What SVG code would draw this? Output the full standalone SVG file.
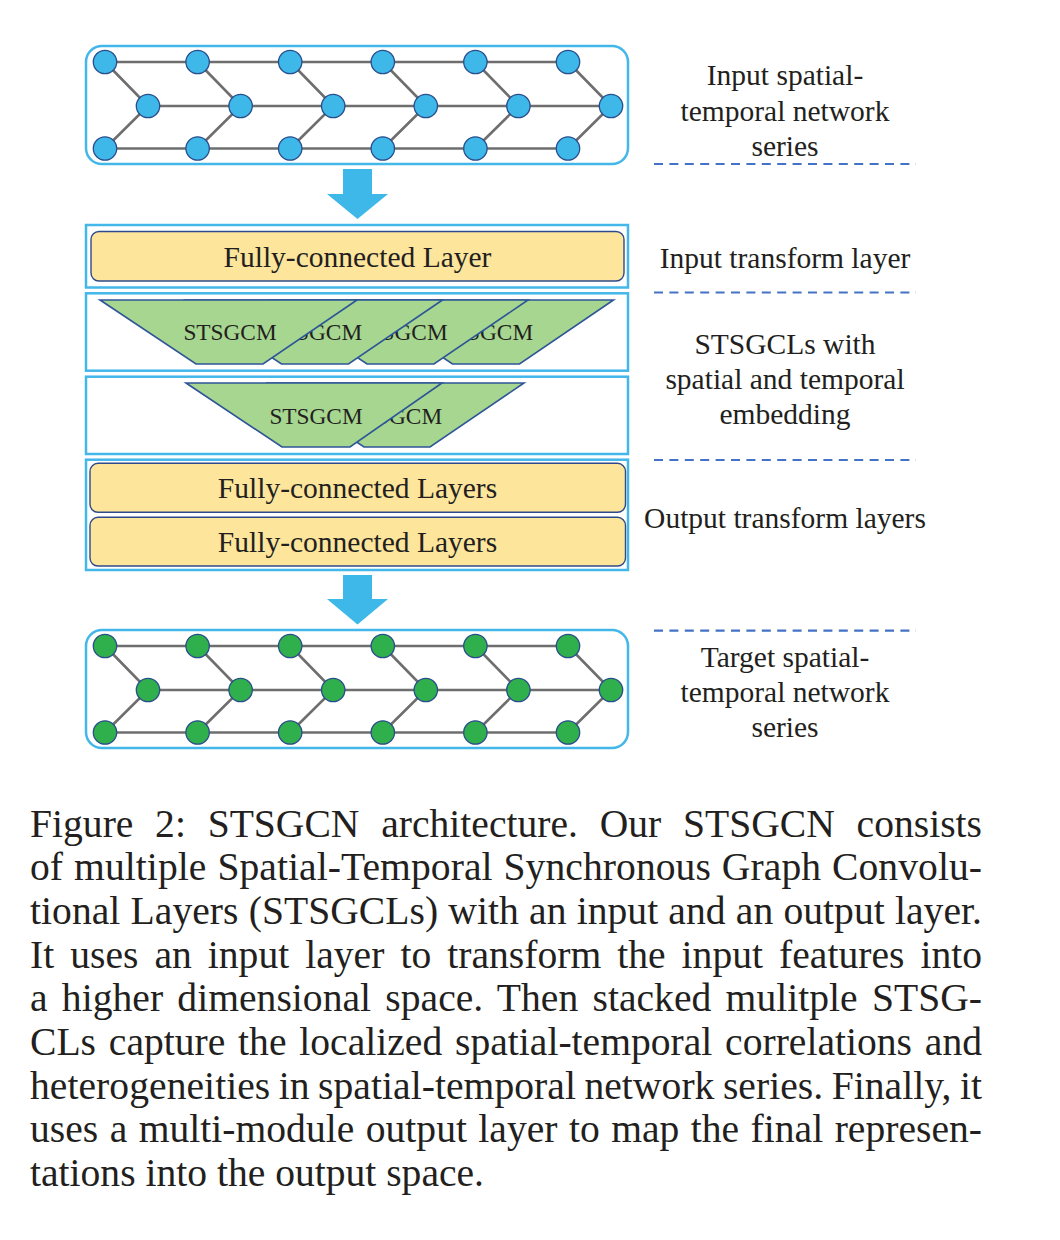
<svg xmlns="http://www.w3.org/2000/svg" width="1060" height="1240" viewBox="0 0 1060 1240">
<style>
  .frame{fill:#fff;stroke:#43b7e9;stroke-width:2.5}
  .netbox{fill:#fff;stroke:#43b7e9;stroke-width:2.5}
  .edge{stroke:#6e6e6e;stroke-width:2.6;fill:none}
  .nb{fill:#3db8e8;stroke:#2b4d8c;stroke-width:1.3}
  .ng{fill:#2fb04c;stroke:#2b4d8c;stroke-width:1.3}
  .fc{fill:#fde59c;stroke:#2f4a8a;stroke-width:1.4}
  .trap{fill:#a6d68f;stroke:#2e5597;stroke-width:1.6;stroke-linejoin:miter}
  .arrow{fill:#3db8e8}
  .dash{stroke:#4472c4;stroke-width:2.2;stroke-dasharray:9 6.4;fill:none}
  .t{font-family:"Liberation Serif","Times New Roman",serif;fill:#231f20}
  .lbl{font-size:29.5px;text-anchor:middle}
  .fct{font-size:29.5px;text-anchor:middle}
  .st{font-size:23.3px;text-anchor:middle}
  .cap{font-size:39.6px}
</style>
<defs>
  <g id="net-edges">
    <line x1="105" y1="62" x2="568" y2="62"/>
    <line x1="148" y1="106" x2="611" y2="106"/>
    <line x1="105" y1="148.5" x2="568" y2="148.5"/>
    <polyline points="105,62 148,106 105,148.5"/>
    <polyline points="197.6,62 240.6,106 197.6,148.5"/>
    <polyline points="290.2,62 333.2,106 290.2,148.5"/>
    <polyline points="382.8,62 425.8,106 382.8,148.5"/>
    <polyline points="475.4,62 518.4,106 475.4,148.5"/>
    <polyline points="568,62 611,106 568,148.5"/>
  </g>
  <g id="net-nodes">
    <circle cx="105" cy="62" r="11.7"/><circle cx="197.6" cy="62" r="11.7"/><circle cx="290.2" cy="62" r="11.7"/>
    <circle cx="382.8" cy="62" r="11.7"/><circle cx="475.4" cy="62" r="11.7"/><circle cx="568" cy="62" r="11.7"/>
    <circle cx="148" cy="106" r="11.7"/><circle cx="240.6" cy="106" r="11.7"/><circle cx="333.2" cy="106" r="11.7"/>
    <circle cx="425.8" cy="106" r="11.7"/><circle cx="518.4" cy="106" r="11.7"/><circle cx="611" cy="106" r="11.7"/>
    <circle cx="105" cy="148.5" r="11.7"/><circle cx="197.6" cy="148.5" r="11.7"/><circle cx="290.2" cy="148.5" r="11.7"/>
    <circle cx="382.8" cy="148.5" r="11.7"/><circle cx="475.4" cy="148.5" r="11.7"/><circle cx="568" cy="148.5" r="11.7"/>
  </g>
</defs>

<g id="input-network">
  <rect class="netbox" x="86" y="46" width="542" height="118" rx="16"/>
  <use href="#net-edges" class="edge"/>
  <use href="#net-nodes" class="nb"/>
</g>

<g id="connectors">
  <polygon class="arrow" points="343,169 372,169 372,194 388,194 357.5,219 327,194 343,194"/>
  <polygon class="arrow" points="343,575 372,575 372,599 388,599 357.5,624.5 327,599 343,599"/>
</g>

<g id="input-transform-layer">
  <rect class="frame" x="86" y="225" width="542" height="62.5"/>
  <rect class="fc" x="91" y="231.5" width="533" height="49.5" rx="8"/>
  <text class="t fct" x="357.5" y="266.5">Fully-connected Layer</text>
</g>

<g id="stsgcl-1">
  <rect class="frame" x="86" y="293.3" width="542" height="77.4"/>
  <g id="stsgcm-1-4">
    <polygon class="trap" points="356.5,300 613.5,300 519.5,364 452.5,364"/>
    <text class="t st" x="486.5" y="340">STSGCM</text>
  </g>
  <g id="stsgcm-1-3">
    <polygon class="trap" points="271,300 528,300 434,364 367,364"/>
    <text class="t st" x="401" y="340">STSGCM</text>
  </g>
  <g id="stsgcm-1-2">
    <polygon class="trap" points="185.5,300 442.5,300 348.5,364 281.5,364"/>
    <text class="t st" x="315.5" y="340">STSGCM</text>
  </g>
  <g id="stsgcm-1-1">
    <polygon class="trap" points="100,300 357,300 263,364 196,364"/>
    <text class="t st" x="230" y="340">STSGCM</text>
  </g>
</g>

<g id="stsgcl-2">
  <rect class="frame" x="86" y="376.7" width="542" height="77.3"/>
  <g id="stsgcm-2-2">
    <polygon class="trap" points="268,383 524,383 430,447 364,447"/>
    <text class="t st" x="395.5" y="423.5">STSGCM</text>
  </g>
  <g id="stsgcm-2-1">
    <polygon class="trap" points="186,383 442,383 350,447 282,447"/>
    <text class="t st" x="316" y="423.5">STSGCM</text>
  </g>
</g>

<g id="output-transform-layers">
  <rect class="frame" x="86" y="459.7" width="542" height="110.3"/>
  <rect class="fc" x="90" y="463.3" width="535.5" height="49" rx="8"/>
  <text class="t fct" x="357.5" y="498.3">Fully-connected Layers</text>
  <rect class="fc" x="90" y="517.3" width="535.5" height="48.7" rx="8"/>
  <text class="t fct" x="357.5" y="552.3">Fully-connected Layers</text>
</g>

<g id="target-network">
  <rect class="netbox" x="86" y="630" width="542" height="118" rx="16"/>
  <g transform="translate(0,584)">
    <use href="#net-edges" class="edge"/>
    <use href="#net-nodes" class="ng"/>
  </g>
</g>

<g id="side-labels">
  <text class="t lbl" x="785" y="85">Input spatial-</text>
  <text class="t lbl" x="785" y="121">temporal network</text>
  <text class="t lbl" x="785" y="156">series</text>
  <line class="dash" x1="654" y1="164" x2="916" y2="164"/>
  <text class="t lbl" x="785" y="268">Input transform layer</text>
  <line class="dash" x1="654" y1="292.5" x2="916" y2="292.5"/>
  <text class="t lbl" x="785" y="354.3">STSGCLs with</text>
  <text class="t lbl" x="785" y="389.3">spatial and temporal</text>
  <text class="t lbl" x="785" y="424.3">embedding</text>
  <line class="dash" x1="654" y1="460" x2="916" y2="460"/>
  <text class="t lbl" x="785" y="528.3">Output transform layers</text>
  <line class="dash" x1="654" y1="630.7" x2="916" y2="630.7"/>
  <text class="t lbl" x="785" y="666.7">Target spatial-</text>
  <text class="t lbl" x="785" y="701.5">temporal network</text>
  <text class="t lbl" x="785" y="736.7">series</text>
</g>

<g id="caption" class="t cap">
  <text x="30" y="836.5" textLength="952" lengthAdjust="spacing" word-spacing="11.8">Figure 2: STSGCN architecture. Our STSGCN consists</text>
  <text x="30" y="880.2" textLength="952" lengthAdjust="spacing" word-spacing="1">of multiple Spatial-Temporal Synchronous Graph Convolu-</text>
  <text x="30" y="923.9" textLength="952" lengthAdjust="spacing" word-spacing="0.2">tional Layers (STSGCLs) with an input and an output layer.</text>
  <text x="30" y="967.6" textLength="952" lengthAdjust="spacing" word-spacing="6.1">It uses an input layer to transform the input features into</text>
  <text x="30" y="1011.3" textLength="952" lengthAdjust="spacing" word-spacing="4.3">a higher dimensional space. Then stacked mulitple STSG-</text>
  <text x="30" y="1055" textLength="952" lengthAdjust="spacing" word-spacing="2.9">CLs capture the localized spatial-temporal correlations and</text>
  <text x="30" y="1098.7" textLength="952" lengthAdjust="spacing" word-spacing="-1.5">heterogeneities in spatial-temporal network series. Finally, it</text>
  <text x="30" y="1142.4" textLength="952" lengthAdjust="spacing" word-spacing="1.5">uses a multi-module output layer to map the final represen-</text>
  <text x="30" y="1186.1">tations into the output space.</text>
</g>
</svg>
